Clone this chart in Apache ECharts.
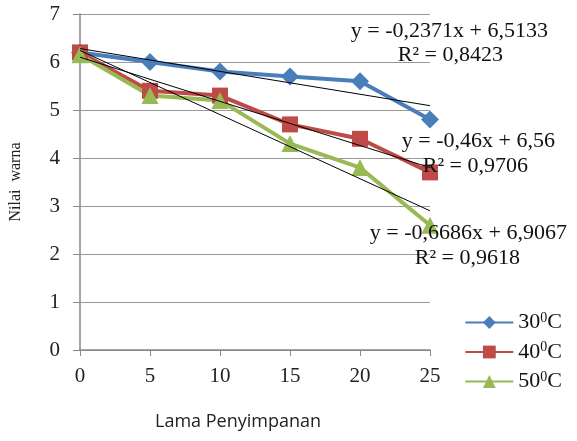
<!DOCTYPE html>
<html><head><meta charset="utf-8">
<script src="https://cdn.jsdelivr.net/npm/echarts@6/dist/echarts.min.js"></script>
<style>html,body{margin:0;padding:0;background:#fff}#c{width:577px;height:441px}</style>
</head><body><div id="c"></div>
<script>
const days = [0, 5, 10, 15, 20, 25];
const s30 = [6.2, 6.0, 5.8, 5.7, 5.6, 4.8];
const s40 = [6.2, 5.4, 5.3, 4.7, 4.4, 3.7];
const s50 = [6.15, 5.3, 5.2, 4.3, 3.8, 2.6];
const trendX = [0, 25];
const trend30 = [6.28, 5.09];
const trend40 = [6.10, 3.80];
const trend50 = [6.24, 2.90];
const names = ['30C', '40C', '50C'];
const labels = ['30', '40', '50'];

const pair = (xs, ys) => xs.map((x,i)=>[x, ys[i]]);
const serif = '"Liberation Serif","DejaVu Serif",serif';
const chart = echarts.init(document.getElementById('c'));
const mk = (name, data, color, symbol, size) => ({
  name, type:'line', data: pair(days, data), symbol, symbolSize:size,
  lineStyle:{color, width:4}, itemStyle:{color}, z:2
});
const tr = (data) => ({
  type:'line', data: pair(trendX, data), symbol:'none', silent:true,
  lineStyle:{color:'#000', width:1}, z:3
});
const eq = (text, right, top) => ({type:'text', right, top, z:10, style:{text, font:'22px '+serif, fill:'#111'}});
chart.setOption({
  animation:false,
  grid:{left:80, right:147, top:14, bottom:91},
  xAxis:{type:'value', min:0, max:25, interval:5,
    axisLine:{lineStyle:{color:'#888', width:1.5}},
    axisTick:{show:true, length:6, lineStyle:{color:'#888'}},
    axisLabel:{fontFamily:serif, fontSize:21, color:'#222', margin:16},
    splitLine:{show:false}},
  yAxis:{type:'value', min:0, max:7, interval:1,
    name:'Nilai  warna', nameLocation:'middle', nameGap:56,
    nameTextStyle:{fontFamily:serif, fontSize:16, color:'#222'},
    axisLine:{show:true, lineStyle:{color:'#888', width:1.5}},
    axisTick:{show:true, length:7, lineStyle:{color:'#888'}},
    axisLabel:{fontFamily:serif, fontSize:21, color:'#222', margin:20},
    splitLine:{lineStyle:{color:'#999', width:1.2}}},
  legend:{orient:'vertical', right:10, top:306, itemGap:7, itemWidth:48, itemHeight:16,
    data:names,
    formatter:(n)=>'{a|'+labels[names.indexOf(n)]+'}{s|0}{a|C}',
    textStyle:{fontFamily:serif, fontSize:22, color:'#111',
      rich:{a:{fontFamily:serif, fontSize:22, color:'#111'}, s:{fontFamily:serif, fontSize:14, color:'#111', verticalAlign:'top', padding:[0,0,9,0]}}}},
  graphic:[
    {type:'text', left:155, top:413, style:{text:'Lama Penyimpanan', font:'18px "Open Sans",sans-serif', fill:'#222'}},
    eq('y = -0,2371x + 6,5133', 29, 20),
    eq('R² = 0,8423', 74, 44),
    eq('y = -0,46x + 6,56', 22, 130),
    eq('R² = 0,9706', 49, 155),
    eq('y = -0,6686x + 6,9067', 10, 222),
    eq('R² = 0,9618', 57, 247)
  ],
  series:[
    mk(names[0], s30, '#4A7EBB', 'diamond', 18),
    mk(names[1], s40, '#BE4B48', 'rect', 16),
    mk(names[2], s50, '#98B954', 'triangle', 17),
    tr(trend30), tr(trend40), tr(trend50)
  ]
});
</script></body></html>
